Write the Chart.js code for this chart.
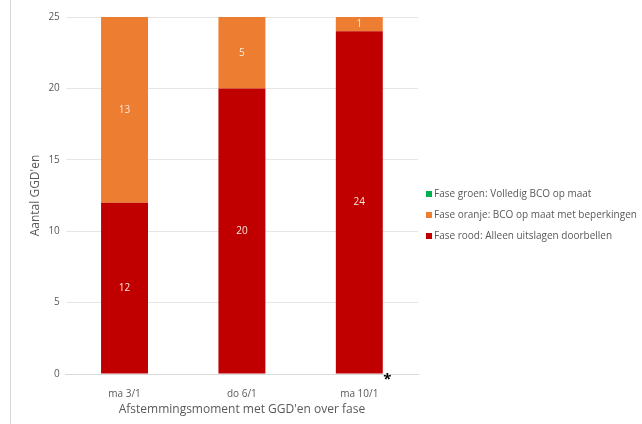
<!DOCTYPE html>
<html>
<head>
<meta charset="utf-8">
<script src="https://cdn.jsdelivr.net/npm/chart.js@4"></script>
<style>
  html, body { margin: 0; padding: 0; background: #fff; }
  #wrap { width: 642px; height: 424px; position: relative; }
</style>
</head>
<body>
<div id="wrap"><canvas id="myChart"></canvas></div>
<script>
var momenten = ['ma 3/1', 'do 6/1', 'ma 10/1'];
var groen = [0, 0, 0];
var oranje = [13, 5, 1];
var rood = [12, 20, 24];
var yTicks = [0, 5, 10, 15, 20, 25];

var fontFam = "'Open Sans', 'Liberation Sans', sans-serif";
var xTitel = "Afstemmingsmoment met GGD'en over fase";
var ctx = document.getElementById('myChart');

// labels in de balken, x-titel en eigen legenda rechts
var extras = {
    id: 'extras',
    afterDatasetsDraw: function (chart) {
        var c = chart.ctx;
        var xs = chart.scales.x, ys = chart.scales.y;
        c.save();
        c.font = '10px ' + fontFam;
        c.fillStyle = '#fbe9dc';
        c.textAlign = 'center';
        c.textBaseline = 'middle';
        chart.data.datasets.forEach(function (ds, i) {
            chart.getDatasetMeta(i).data.forEach(function (bar, j) {
                if (!ds.data[j]) return;
                var mid = (bar.y + bar.base) / 2;
                c.fillText(ds.data[j], bar.x, mid);
            });
        });
        // x-as titel
        c.fillStyle = '#595959';
        c.font = '12px ' + fontFam;
        c.fillText(xTitel, (chart.chartArea.left + chart.chartArea.right) / 2, ys.getPixelForValue(0) + 36);
        // sterretje bij laatste balk
        c.fillStyle = '#000';
        c.font = 'bold 15px ' + fontFam;
        c.fillText('*', xs.getPixelForValue(2) + 28, ys.getPixelForValue(0) + 6);
        // legenda (groen boven)
        c.font = '10px ' + fontFam;
        c.textAlign = 'left';
        var n = chart.data.datasets.length;
        for (var k = 0; k < n; k++) {
            var ds = chart.data.datasets[n - 1 - k];
            var y = 194 + k * 21;
            c.fillStyle = ds.backgroundColor;
            c.fillRect(426, y - 3, 6, 6);
            c.fillStyle = '#595959';
            c.fillText(ds.label, 434, y);
        }
        // rand links
        c.strokeStyle = '#d9d9d9';
        c.lineWidth = 1;
        c.beginPath();
        c.moveTo(10.5, 0);
        c.lineTo(10.5, 424);
        c.stroke();
        c.restore();
    }
};

var myChart = new Chart(ctx, {
    type: 'bar',
    data: {
        labels: momenten,
        datasets: [
            { label: 'Fase rood: Alleen uitslagen doorbellen', data: rood, backgroundColor: '#c00000' },
            { label: 'Fase oranje: BCO op maat met beperkingen', data: oranje, backgroundColor: '#ed7d31' },
            { label: 'Fase groen: Volledig BCO op maat', data: groen, backgroundColor: '#00b050' }
        ]
    },
    options: {
        responsive: true,
        maintainAspectRatio: false,
        animation: false,
        layout: { padding: { left: 28, right: 224, top: 17, bottom: 18 } },
        datasets: { bar: { categoryPercentage: 1, barPercentage: 0.4 } },
        plugins: {
            legend: { display: false },
            tooltip: { enabled: false }
        },
        scales: {
            x: {
                stacked: true,
                grid: { display: false },
                border: { color: '#d9d9d9' },
                ticks: { color: '#595959', font: { family: fontFam, size: 10 }, padding: 6 },
                title: { display: false }
            },
            y: {
                stacked: true,
                min: 0,
                max: 25,
                afterBuildTicks: function (axis) {
                    axis.ticks = yTicks.map(function (v) { return { value: v }; });
                },
                grid: { color: '#e6e6e6', drawTicks: false },
                border: { display: false },
                ticks: { color: '#595959', font: { family: fontFam, size: 10 }, padding: 6 },
                title: {
                    display: true,
                    text: "Aantal GGD'en",
                    color: '#595959',
                    font: { family: fontFam, size: 12 },
                    padding: { top: 0, bottom: 0 }
                }
            }
        }
    },
    plugins: [extras]
});
</script>
</body>
</html>
